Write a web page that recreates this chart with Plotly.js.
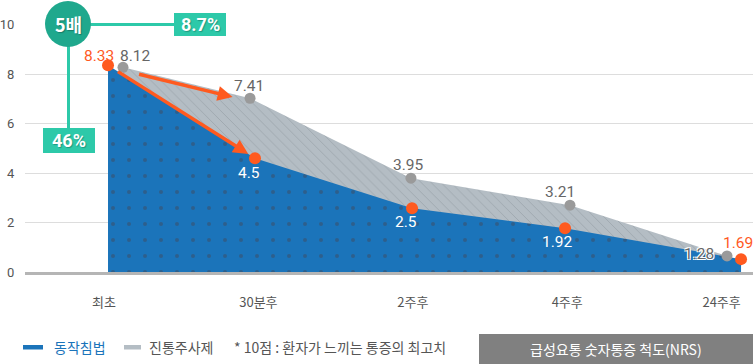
<!DOCTYPE html>
<html>
<head>
<meta charset="utf-8">
<script src="https://cdn.plot.ly/plotly-3.0.1.min.js"></script>
<style>html,body{margin:0;padding:0;background:#fff;}#chart{width:753px;height:364px;}</style>
</head>
<body>
<div id="chart"></div>
<script>
// ---- data ----
const categories = ['최초', '30분후', '2주후', '4주후', '24주후'];
const acuLabels = [8.33, 4.5, 2.5, 1.92, 1.69];      // 동작침법 printed values
const acuX = [0.026, 0.978, 1.995, 2.986, 4.126];     // drawn positions (category units)
const acuY = [8.35, 4.60, 2.58, 1.77, 0.52];
const injLabels = [8.12, 7.41, 3.95, 3.21, 1.28];     // 진통주사제 printed values
const injX = [0.123, 0.946, 1.988, 3.018, 4.035];
const injY = [8.27, 7.02, 3.79, 2.70, 0.65];
const yTicks = [0, 2, 4, 6, 8, 10];
const seriesNames = ['동작침법', '진통주사제'];
const noteText = '* 10점 : 환자가 느끼는 통증의 최고치';
const scaleText = '급성요통 숫자통증 척도(NRS)';
const badgeText = '5배';
const topPct = '8.7%';
const leftPct = '46%';

// ---- styling / layout ----
const W = 753, H = 364, ML = 25, MR = 0, MT = 24, MB = 92;
const PW = W - ML - MR, PH = H - MT - MB;
const px = x => (x - ML) / PW;
const py = y => (H - MB - y) / PH;

const BLUE = '#1b74ba', GRAYF = '#b4bdc4', ORANGE = '#ff5a1f', GRAYM = '#9a9a9a', TEAL = '#2dc9a9', TEALD = '#1fa88d';
const numFont = 'Roboto, "Noto Sans CJK KR", sans-serif';
const krFont = '"Noto Sans CJK KR", "Noto Sans", sans-serif';

const traces = [
  { x: injX, y: injY, type: 'scatter', mode: 'lines', fill: 'tozeroy', line: {width: 0, color: GRAYF},
    fillcolor: GRAYF, fillpattern: {shape: '\\', bgcolor: GRAYF, fgcolor: '#97a0a7', size: 7, solidity: 0.1},
    hoverinfo: 'skip', showlegend: false },
  { x: acuX, y: acuY, type: 'scatter', mode: 'lines', fill: 'tozeroy', line: {width: 0, color: BLUE},
    fillcolor: BLUE, fillpattern: {shape: '.', bgcolor: BLUE, fgcolor: '#2d5f8c', size: 16, solidity: 0.05},
    hoverinfo: 'skip', showlegend: false },
  { x: injX, y: injY, type: 'scatter', mode: 'markers', marker: {size: 11, color: GRAYM}, cliponaxis: false, showlegend: false },
  { x: acuX, y: acuY, type: 'scatter', mode: 'markers', marker: {size: 12, color: ORANGE}, cliponaxis: false, showlegend: false }
];

// label offsets in px (dx right, dy up)
const injOff = [[13, 11], [-1, 12], [-2, 13], [-10, 13.5], [-28, 2]];
const acuOff = [[-9, 9], [-6, -15], [-6, -14], [-8, -14], [-3, 16.5]];
const acuColors = [ORANGE, '#fff', '#fff', '#fff', ORANGE];

const annotations = [];
// arrows
annotations.push({x: acuX[1], y: acuY[1], ax: acuX[0], ay: acuY[0], xref: 'x', yref: 'y', axref: 'x', ayref: 'y',
  text: '', showarrow: true, arrowhead: 2, arrowsize: 0.85, arrowwidth: 3.5, arrowcolor: ORANGE, standoff: 8, startstandoff: 10});
annotations.push({x: injX[1], y: injY[1], ax: injX[0], ay: injY[0], xref: 'x', yref: 'y', axref: 'x', ayref: 'y', yshift: -3,
  text: '', showarrow: true, arrowhead: 2, arrowsize: 0.85, arrowwidth: 3.5, arrowcolor: ORANGE, standoff: 18, startstandoff: 15});

injLabels.forEach((v, i) => annotations.push({
  x: injX[i], y: injY[i], xref: 'x', yref: 'y', text: String(v), showarrow: false,
  xshift: injOff[i][0], yshift: injOff[i][1], xanchor: 'center', yanchor: 'middle',
  font: {family: numFont, size: 15.5, color: '#666',
    shadow: i === 4 ? '1px 1px 0 #fff, -1px -1px 0 #fff, 1px -1px 0 #fff, -1px 1px 0 #fff' : 'none'}
}));
acuLabels.forEach((v, i) => annotations.push({
  x: acuX[i], y: acuY[i], xref: 'x', yref: 'y', text: String(v), showarrow: false,
  xshift: acuOff[i][0], yshift: acuOff[i][1], xanchor: 'center', yanchor: 'middle',
  font: {family: numFont, size: 15.5, color: acuColors[i]}
}));

const paperText = (x, y, text, font, xanchor) => ({
  x: px(x), y: py(y), xref: 'paper', yref: 'paper', text: text, showarrow: false,
  xanchor: xanchor || 'center', yanchor: 'middle', font: font
});
const shadowTeal = '1px 1px 1px rgba(0,0,0,0.25)';
// teal badge texts
annotations.push(paperText(68, 24, '<b>' + badgeText + '</b>', {family: krFont, size: 18, color: '#fff', shadow: shadowTeal}));
annotations.push(paperText(200, 24.5, '<b>' + topPct + '</b>', {family: numFont, size: 18, color: '#fff', shadow: shadowTeal}));
annotations.push(paperText(69, 140.5, '<b>' + leftPct + '</b>', {family: numFont, size: 18, color: '#fff', shadow: shadowTeal}));

// legend & note
annotations.push(paperText(52, 347, seriesNames[0], {family: krFont, size: 14, color: BLUE}, 'left'));
annotations.push(paperText(147, 347, seriesNames[1], {family: krFont, size: 14, color: '#555'}, 'left'));
annotations.push(paperText(232, 347, noteText, {family: krFont, size: 14, color: '#555'}, 'left'));
annotations.push(paperText(616, 349, scaleText, {family: krFont, size: 14, color: '#fff'}));

const shapes = [
  // teal connectors
  {type: 'line', xref: 'paper', yref: 'paper', x0: px(68), y0: py(24.5), x1: px(180), y1: py(24.5), line: {color: TEAL, width: 3}, layer: 'above'},
  {type: 'line', xref: 'paper', yref: 'paper', x0: px(68.5), y0: py(24), x1: px(68.5), y1: py(130), line: {color: TEAL, width: 3}, layer: 'above'},
  {type: 'rect', xref: 'paper', yref: 'paper', x0: px(174), y0: py(13), x1: px(226), y1: py(36), fillcolor: TEAL, line: {width: 0}, layer: 'above'},
  {type: 'rect', xref: 'paper', yref: 'paper', x0: px(43), y0: py(128), x1: px(95), y1: py(153), fillcolor: TEAL, line: {width: 0}, layer: 'above'},
  {type: 'circle', xref: 'paper', yref: 'paper', x0: px(45), y0: py(1), x1: px(91), y1: py(47), fillcolor: TEALD, line: {width: 0}, layer: 'above'},
  // legend swatches
  {type: 'rect', xref: 'paper', yref: 'paper', x0: px(23), y0: py(345), x1: px(43), y1: py(349.5), fillcolor: BLUE, line: {width: 0}},
  {type: 'rect', xref: 'paper', yref: 'paper', x0: px(124), y0: py(345), x1: px(141), y1: py(349.5), fillcolor: GRAYF, line: {width: 0}},
  // scale box
  {type: 'rect', xref: 'paper', yref: 'paper', x0: px(479), y0: py(334), x1: px(753), y1: py(364), fillcolor: '#808080', line: {width: 0}}
];

const layout = {
  width: W, height: H,
  margin: {l: ML, r: MR, t: MT, b: MB, pad: 0},
  paper_bgcolor: '#fff', plot_bgcolor: '#fff',
  showlegend: false,
  font: {family: krFont, color: '#555'},
  xaxis: {
    range: [(ML - 104) / 154.4, (W - 104) / 154.4],
    tickvals: categories.map((c, i) => i), ticktext: categories,
    showgrid: false, zeroline: false,
    showline: true, linecolor: '#b5b5b5', linewidth: 3,
    ticks: 'outside', ticklen: 16, tickcolor: 'rgba(0,0,0,0)',
    tickfont: {family: krFont, size: 13, color: '#555'},
    fixedrange: true
  },
  yaxis: {
    range: [0, 10.02], tickvals: yTicks,
    showgrid: true, gridcolor: '#dddddd', gridwidth: 1, zeroline: false, showline: false,
    ticks: 'outside', ticklen: 7, tickcolor: 'rgba(0,0,0,0)',
    tickfont: {family: numFont, size: 13, color: '#555'},
    fixedrange: true
  },
  annotations: annotations,
  shapes: shapes
};

Plotly.newPlot('chart', traces, layout, {displayModeBar: false, staticPlot: true});
</script>
</body>
</html>
